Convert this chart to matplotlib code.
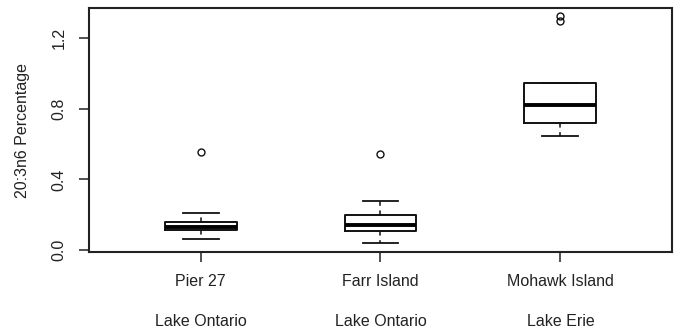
import matplotlib.pyplot as plt

plt.rcParams['font.family'] = ['Liberation Sans', 'DejaVu Sans']

# Summary statistics per site
sites = ['Pier 27', 'Farr Island', 'Mohawk Island']
lakes = ['Lake Ontario', 'Lake Ontario', 'Lake Erie']
medians = [0.132, 0.141, 0.821]
q1 = [0.113, 0.109, 0.717]
q3 = [0.160, 0.198, 0.947]
whisk_lo = [0.062, 0.038, 0.647]
whisk_hi = [0.208, 0.279, 0.947]
outliers = [[0.553], [0.542], [1.296, 1.322]]

stats = []
for i in range(len(sites)):
    stats.append(dict(med=medians[i], q1=q1[i], q3=q3[i],
                      whislo=whisk_lo[i], whishi=whisk_hi[i],
                      fliers=outliers[i], label=sites[i]))

fig = plt.figure(figsize=(6.79, 3.33), dpi=100)
ax = fig.add_axes([89 / 679, 1 - 252 / 333, 583 / 679, 244 / 333])

ax.bxp(stats, positions=[1, 2, 3], widths=0.4, showfliers=True,
       boxprops=dict(color='#111111', linewidth=1.4),
       medianprops=dict(color='black', linewidth=2.8),
       whiskerprops=dict(color='#111111', linewidth=1.1, linestyle=(0, (3, 3))),
       capprops=dict(color='#111111', linewidth=1.3),
       flierprops=dict(marker='o', markerfacecolor='none', markeredgecolor='#111111',
                       markersize=5, markeredgewidth=1.0))

ax.set_xlim(0.38, 3.62)
ax.set_ylim(-0.011, 1.37)

ax.set_xticks([1, 2, 3])
ax.set_xticklabels([s + '\n\n' + l for s, l in zip(sites, lakes)])
for lab in ax.get_xticklabels():
    lab.set_linespacing(1.4)
ax.set_yticks([0.0, 0.4, 0.8, 1.2])
ax.set_yticklabels(['0.0', '0.4', '0.8', '1.2'])
for lab in ax.get_yticklabels():
    lab.set_rotation(90)
    lab.set_va('center')

ax.tick_params(axis='both', labelsize=11.5, length=7, width=1.1,
               colors='#222222', labelcolor='#222222')
ax.tick_params(axis='x', pad=9)
ax.tick_params(axis='y', pad=9)

for sp in ax.spines.values():
    sp.set_linewidth(1.5)
    sp.set_color('#222222')

fig.text(23 / 679, 1 - 130 / 333, '20:3n6 Percentage', rotation=90,
         ha='center', va='center', fontsize=11.5, color='#222222')

fig.savefig('out.png', dpi=100)
